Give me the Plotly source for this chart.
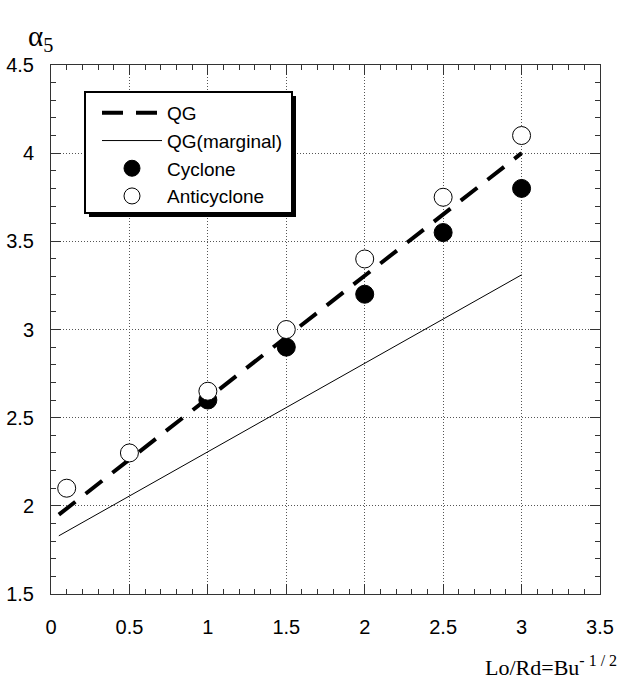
import plotly.graph_objects as go

# Data
qg_x = [0.05, 3.0]
qg_y = [1.95, 4.0]
qgm_x = [0.05, 3.0]
qgm_y = [1.83, 3.31]
cyc_x = [1.0, 1.5, 2.0, 2.5, 3.0]
cyc_y = [2.6, 2.9, 3.2, 3.55, 3.8]
anti_x = [0.1, 0.5, 1.0, 1.5, 2.0, 2.5, 3.0]
anti_y = [2.1, 2.3, 2.65, 3.0, 3.4, 3.75, 4.1]

x_ticks = [0, 0.5, 1, 1.5, 2, 2.5, 3, 3.5]
x_ticklabels = ["0", "0.5", "1", "1.5", "2", "2.5", "3", "3.5"]
y_ticks = [1.5, 2, 2.5, 3, 3.5, 4, 4.5]
y_ticklabels = ["1.5", "2", "2.5", "3", "3.5", "4", "4.5"]

W, H = 618, 683
ml, mr, mt, mb = 51, 18, 65, 89
pw, ph = W - ml - mr, H - mt - mb

fig = go.Figure()
fig.add_trace(go.Scatter(x=qg_x, y=qg_y, mode="lines", name="QG",
                         line=dict(color="black", width=4, dash="21px,13px")))
fig.add_trace(go.Scatter(x=qgm_x, y=qgm_y, mode="lines", name="QG(marginal)",
                         line=dict(color="black", width=1)))
fig.add_trace(go.Scatter(x=cyc_x, y=cyc_y, mode="markers", name="Cyclone",
                         marker=dict(color="black", size=18, line=dict(color="black", width=1))))
fig.add_trace(go.Scatter(x=anti_x, y=anti_y, mode="markers", name="Anticyclone",
                         marker=dict(color="white", size=18, line=dict(color="black", width=1))))

def px2paper_x(p):
    return (p - ml) / pw

def px2paper_y(p):
    return (H - mb - p) / ph

# legend box with shadow
bx0, bx1, by0, by1 = 85, 292, 92, 213
fig.add_shape(type="rect", xref="paper", yref="paper",
              x0=px2paper_x(bx0 + 4), x1=px2paper_x(bx1 + 4),
              y0=px2paper_y(by1 + 4), y1=px2paper_y(by0 + 4),
              fillcolor="black", line=dict(width=0), layer="above")
fig.add_shape(type="rect", xref="paper", yref="paper",
              x0=px2paper_x(bx0), x1=px2paper_x(bx1),
              y0=px2paper_y(by1), y1=px2paper_y(by0),
              fillcolor="white", line=dict(color="black", width=2), layer="above")

axis_common = dict(
    showline=True, linecolor="#333", linewidth=1, mirror="allticks",
    ticks="inside", ticklen=10, tickcolor="#333", tickwidth=1,
    showgrid=True, gridcolor="#555", gridwidth=1, griddash="1px,2px",
    zeroline=False, automargin=False,
    tickfont=dict(family="Liberation Sans, Arial", size=20, color="black"),
)

fig.update_xaxes(range=[0, 3.5], tickvals=x_ticks, ticktext=x_ticklabels,
                 minor=dict(dtick=0.1, ticks="inside", ticklen=5, tickcolor="#333", showgrid=False),
                 ticklabelstandoff=15, **axis_common)
fig.update_yaxes(range=[1.5, 4.5], tickvals=y_ticks, ticktext=y_ticklabels,
                 minor=dict(dtick=0.1, ticks="inside", ticklen=5, tickcolor="#333", showgrid=False),
                 ticklabelstandoff=12, **axis_common)

fig.add_annotation(xref="paper", yref="paper", x=px2paper_x(619), y=px2paper_y(666),
                   xanchor="right", yanchor="middle", showarrow=False,
                   text="Lo/Rd=Bu<sup><span style='font-size:16px'>- 1 / 2</span></sup>",
                   font=dict(family="Liberation Serif, Times New Roman", size=22, color="black"))
fig.add_annotation(xref="paper", yref="paper", x=px2paper_x(26), y=px2paper_y(38),
                   xanchor="left", yanchor="middle", showarrow=False,
                   text="α<sub>5</sub>",
                   font=dict(family="Liberation Serif, Times New Roman", size=29, color="black"))

fig.update_layout(
    width=W, height=H,
    margin=dict(l=ml, r=mr, t=mt, b=mb, autoexpand=False),
    paper_bgcolor="white", plot_bgcolor="white",
    showlegend=True,
    legend=dict(x=px2paper_x(97), y=px2paper_y(by0 + 2), xanchor="left", yanchor="top",
                bgcolor="rgba(0,0,0,0)", borderwidth=0, itemwidth=60,
                font=dict(family="Liberation Sans, Arial", size=19, color="black"),
                tracegroupgap=0, itemsizing="trace"),
)

fig.write_html("out.html")
